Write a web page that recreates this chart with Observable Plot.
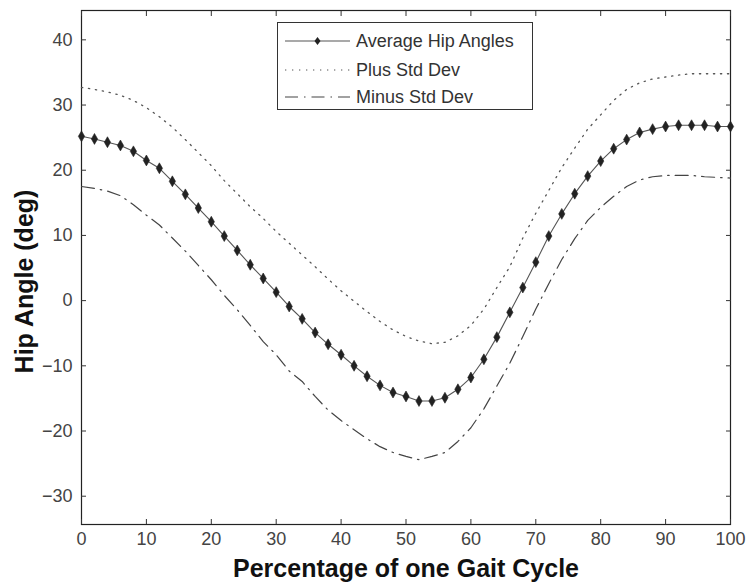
<!DOCTYPE html>
<html>
<head>
<meta charset="utf-8">
<script src="https://cdn.jsdelivr.net/npm/d3@7"></script>
<script src="https://cdn.jsdelivr.net/npm/@observablehq/plot@0.6"></script>
<style>
  html, body { margin: 0; padding: 0; background: #fff; }
  #wrap { position: relative; width: 746px; height: 583px; font-family: "Liberation Sans", Arial, sans-serif; }
  #legend { position: absolute; left: 277px; top: 22px; width: 256px; height: 88px; border: 1px solid #333; background: #fff; box-sizing: border-box; }
  .row { position: absolute; left: 0; height: 20px; display: flex; align-items: center; }
  .row svg { margin-left: 7px; }
  .row span { font-size: 18px; color: #333; margin-left: 6px; }
</style>
</head>
<body>
<div id="wrap"></div>
<script>
// Percentage of gait cycle (x positions of the samples)
const gaitPct = [0,2,4,6,8,10,12,14,16,18,20,22,24,26,28,30,32,34,36,38,40,42,44,46,48,50,52,54,56,58,60,62,64,66,68,70,72,74,76,78,80,82,84,86,88,90,92,94,96,98,100];
// Average hip angle (deg)
const avgHip = [25.2,24.8,24.3,23.8,22.9,21.5,20.3,18.3,16.3,14.2,12.1,9.9,7.7,5.5,3.4,1.3,-0.9,-2.8,-4.9,-6.7,-8.3,-10.0,-11.6,-13.0,-14.1,-14.7,-15.4,-15.4,-14.9,-13.6,-11.8,-9.0,-5.6,-1.8,2.0,5.9,9.9,13.3,16.4,19.1,21.4,23.3,24.7,25.8,26.3,26.7,26.9,26.9,26.9,26.7,26.7];
// Plus standard deviation
const plusStd = [32.7,32.4,32.0,31.5,30.7,29.6,28.2,26.6,24.7,22.7,20.7,18.4,16.4,14.4,12.6,10.6,8.8,7.0,5.2,3.3,1.5,-0.1,-1.7,-3.2,-4.5,-5.5,-6.2,-6.6,-6.4,-5.4,-3.8,-1.3,2.0,5.2,9.6,13.4,16.9,20.4,23.4,26.3,28.5,30.7,32.4,33.4,34.0,34.3,34.6,34.8,34.8,34.8,34.8];
// Minus standard deviation
const minusStd = [17.5,17.2,16.8,16.1,14.7,13.1,11.6,9.6,7.6,5.4,3.2,0.8,-1.4,-3.8,-6.3,-8.3,-10.8,-12.4,-14.7,-16.8,-18.4,-19.8,-21.2,-22.4,-23.3,-23.9,-24.4,-23.9,-23.3,-21.6,-19.5,-16.6,-13.1,-9.6,-5.5,-1.3,2.6,6.3,9.5,12.3,14.3,16.0,17.5,18.5,19.0,19.2,19.2,19.2,19.0,18.9,18.8];

const xTicks = [0,10,20,30,40,50,60,70,80,90,100];
const yTicks = [-30,-20,-10,0,10,20,30,40];
const xLabel = "Percentage of one Gait Cycle";
const yLabel = "Hip Angle (deg)";
const legendLabels = ["Average Hip Angles", "Plus Std Dev", "Minus Std Dev"];

const avgData = gaitPct.map((x, i) => ({x, y: avgHip[i]}));
const plusData = gaitPct.map((x, i) => ({x, y: plusStd[i]}));
const minusData = gaitPct.map((x, i) => ({x, y: minusStd[i]}));

const chart = Plot.plot({
  width: 746,
  height: 583,
  marginLeft: 81,
  marginRight: 16,
  marginTop: 10,
  marginBottom: 59,
  style: {fontFamily: "'Liberation Sans', Arial, sans-serif", background: "#fff", color: "#333"},
  x: {domain: [0, 100]},
  y: {domain: [-34.34, 44.5]},
  marks: [
    Plot.frame({stroke: "#222", strokeWidth: 1.2}),
    Plot.axisX(xTicks, {anchor: "bottom", tickSize: -5, tickPadding: 13, fontSize: 18, label: null, stroke: "#333", fill: "#444"}),
    Plot.axisX(xTicks, {anchor: "top", tickSize: -5, tickFormat: () => "", label: null, stroke: "#333"}),
    Plot.axisY(yTicks, {anchor: "left", tickSize: -5, tickPadding: 14, fontSize: 18, label: null, stroke: "#333", fill: "#444"}),
    Plot.axisY(yTicks, {anchor: "right", tickSize: -5, tickFormat: () => "", label: null, stroke: "#333"}),
    Plot.line(plusData, {x: "x", y: "y", stroke: "#555", strokeWidth: 1.3, strokeDasharray: "1.3,5.7"}),
    Plot.line(minusData, {x: "x", y: "y", stroke: "#444", strokeWidth: 1.2, strokeDasharray: "13,6,1.5,6"}),
    Plot.line(avgData, {x: "x", y: "y", stroke: "#555", strokeWidth: 1.1}),
    Plot.dot(avgData, {x: "x", y: "y", symbol: "diamond", r: 3.3, fill: "#222", stroke: "#222", strokeWidth: 0.6}),
    Plot.text([xLabel], {frameAnchor: "bottom", lineAnchor: "bottom", dy: 52, fontSize: 25, fontWeight: "bold", fill: "#111"}),
    Plot.text([yLabel], {frameAnchor: "left", textAnchor: "middle", lineAnchor: "middle", dx: -57, dy: 14, rotate: -90, fontSize: 25, fontWeight: "bold", fill: "#111"})
  ]
});

const wrap = document.getElementById("wrap");
wrap.appendChild(chart);

// Legend box
const legend = document.createElement("div");
legend.id = "legend";
const styles = [
  {dash: "", marker: true, color: "#555"},
  {dash: "1.3,5.7", marker: false, color: "#555"},
  {dash: "13,6,1.5,6", marker: false, color: "#444"}
];
const rowTops = [8, 37, 64];
legendLabels.forEach((lab, i) => {
  const row = document.createElement("div");
  row.className = "row";
  row.style.top = rowTops[i] + "px";
  const s = styles[i];
  row.innerHTML = `<svg width="65" height="20"><line x1="0" x2="65" y1="10" y2="10" stroke="${s.color}" stroke-width="1.2" ${s.dash ? `stroke-dasharray="${s.dash}"` : ""}/>${s.marker ? `<path d="M32.5,6L35.5,10L32.5,14L29.5,10Z" fill="#222"/>` : ""}</svg><span>${lab}</span>`;
  legend.appendChild(row);
});
wrap.appendChild(legend);
</script>
</body>
</html>
